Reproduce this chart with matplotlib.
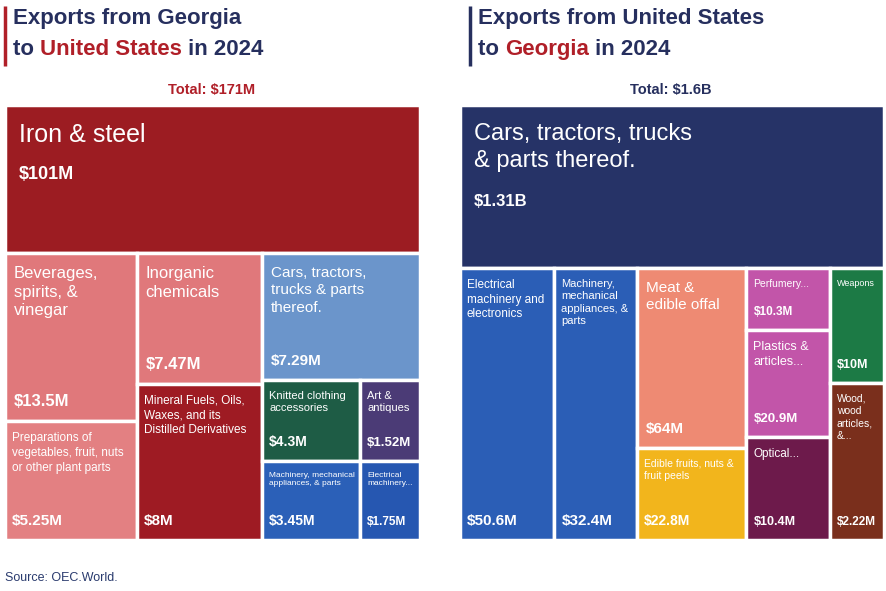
import matplotlib
matplotlib.use("Agg")
import matplotlib.pyplot as plt
from matplotlib.patches import Rectangle

plt.rcParams["font.family"] = ["Liberation Sans Narrow", "Liberation Sans", "DejaVu Sans"]

RED = "#b01f28"
NAVY = "#262f5e"

# ---------------------------------------------------------------------------
# Data
# ---------------------------------------------------------------------------
ge_labels = ["Iron & steel", "Beverages,\nspirits, &\nvinegar",
             "Preparations of\nvegetables, fruit, nuts\nor other plant parts",
             "Inorganic\nchemicals", "Mineral Fuels, Oils,\nWaxes, and its\nDistilled Derivatives",
             "Cars, tractors,\ntrucks & parts\nthereof.", "Knitted clothing\naccessories",
             "Art &\nantiques", "Machinery, mechanical\nappliances, & parts",
             "Electrical\nmachinery..."]
ge_values = ["$101M", "$13.5M", "$5.25M", "$7.47M", "$8M", "$7.29M",
             "$4.3M", "$1.52M", "$3.45M", "$1.75M"]
us_labels = ["Cars, tractors, trucks\n& parts thereof.", "Electrical\nmachinery and\nelectronics",
             "Machinery,\nmechanical\nappliances, &\nparts", "Meat &\nedible offal",
             "Edible fruits, nuts &\nfruit peels", "Perfumery...", "Plastics &\narticles...",
             "Optical...", "Weapons", "Wood,\nwood\narticles,\n&..."]
us_values = ["$1.31B", "$50.6M", "$32.4M", "$64M", "$22.8M", "$10.3M",
             "$20.9M", "$10.4M", "$10M", "$2.22M"]

# ---------------------------------------------------------------------------
# Style per leaf: colour, label size, value size, value placement
# ---------------------------------------------------------------------------
ge_style = [("#9c1c22", 18, 13, "under"), ("#e0787b", 12, 12, "bottom"),
            ("#e38082", 8.5, 11, "bottom"), ("#e0787b", 12, 12, "bottom"),
            ("#9e1b23", 8.5, 11, "bottom"), ("#6b95cb", 11, 11, "bottom"),
            ("#1e5c45", 8, 10, "bottom"), ("#4b3b76", 8, 9.5, "bottom"),
            ("#2b60b8", 6, 10, "bottom"), ("#2657b1", 6, 8.5, "bottom")]
us_style = [("#263367", 17, 12, "under"), ("#2b5eb6", 8.5, 11, "bottom"),
            ("#2b5eb6", 8, 11, "bottom"), ("#ee8a73", 11, 11, "bottom"),
            ("#f2b51c", 7.5, 10, "bottom"), ("#c255a9", 7.5, 8.5, "bottom"),
            ("#c255a9", 9, 9.5, "bottom"), ("#6d1a4b", 8.5, 9, "bottom"),
            ("#1c7a45", 6.5, 9, "bottom"), ("#7a2f1c", 7.5, 8.5, "bottom")]

# Layout tree: ("v"/"h", [(weight, child), ...]); leaves are indices
ge_tree = ("v", [(148, 0), (287, ("h", [
    (130, ("v", [(167, 1), (118, 2)])),
    (124, ("v", [(130, 3), (155, 4)])),
    (156, ("v", [(125, 5), (80, ("h", [(95, 6), (58, 7)])),
                 (78, ("h", [(95, 8), (58, 9)]))])),
]))])
us_tree = ("v", [(163, 0), (272, ("h", [
    (92, 1), (80, 2),
    (107, ("v", [(180, 3), (92, 4)])),
    (81, ("v", [(60, 5), (104, 6), (100, 7)])),
    (53, ("v", [(113, 8), (155, 9)])),
]))])


def layout(node, x, y, w, h, out):
    if isinstance(node, int):
        out[node] = (x, y, w, h)
        return
    d, kids = node
    tot = sum(k[0] for k in kids)
    pos = 0
    for wt, child in kids:
        f = wt / tot
        if d == "v":
            layout(child, x, y + pos * h, w, f * h, out)
        else:
            layout(child, x + pos * w, y, f * w, h, out)
        pos += f


fig = plt.figure(figsize=(8.87, 5.91), dpi=100)
ax = fig.add_axes([0, 0, 1, 1])
ax.set_xlim(0, 887)
ax.set_ylim(591, 0)
ax.axis("off")


def draw_map(tree, labels, values, style, box):
    rects = {}
    layout(tree, *box, rects)
    for i, (x, y, w, h) in rects.items():
        col, ls, vs, mode = style[i]
        ax.add_patch(Rectangle((x, y), w, h, facecolor=col, edgecolor="white", lw=2.5))
        pad = 14 if ls >= 16 else 9 if ls >= 10 else 7
        ax.text(x + pad, y + pad + 4, labels[i], color="white", fontsize=ls,
                va="top", ha="left", linespacing=1.3)
        if mode == "under":
            nl = labels[i].count("\n") + 1
            ax.text(x + pad, y + pad + 4 + nl * ls * 1.3 * 1.39 + 10, values[i], color="white",
                    fontsize=vs, va="top", ha="left", fontweight="bold")
        else:
            ax.text(x + pad, y + h - 12, values[i], color="white", fontsize=vs,
                    va="bottom", ha="left", fontweight="bold")


draw_map(ge_tree, ge_labels, ge_values, ge_style, (5, 105, 415, 435))
draw_map(us_tree, us_labels, us_values, us_style, (460, 105, 424, 435))

# Titles with mixed colours
fig.canvas.draw()
rend = fig.canvas.get_renderer()


def title(x, line1, parts, bar_col):
    ax.plot([x - 8, x - 8], [6, 66], color=bar_col, lw=2.5, solid_capstyle="butt")
    ax.text(x, 8, line1, color=NAVY, fontsize=16, fontweight="bold", va="top")
    cx = x
    inv = ax.transData.inverted()
    for txt, col in parts:
        t = ax.text(cx, 39, txt, color=col, fontsize=16, fontweight="bold", va="top")
        bb = t.get_window_extent(rend)
        x0 = inv.transform((bb.x0, 0))[0]
        x1 = inv.transform((bb.x1, 0))[0]
        cx += x1 - x0


title(13, "Exports from Georgia",
      [("to ", NAVY), ("United States", RED), (" in 2024", NAVY)], RED)
title(478, "Exports from United States",
      [("to ", NAVY), ("Georgia", RED), (" in 2024", NAVY)], NAVY)

ax.text(212, 90, "Total: $171M", color=RED, fontsize=10.5, fontweight="bold",
        ha="center", va="center")
ax.text(671, 90, "Total: $1.6B", color=NAVY, fontsize=10.5, fontweight="bold",
        ha="center", va="center")
ax.text(5, 578, "Source: OEC.World.", color="#2a3b6e", fontsize=9, va="center")

fig.savefig("out.png", dpi=100)
